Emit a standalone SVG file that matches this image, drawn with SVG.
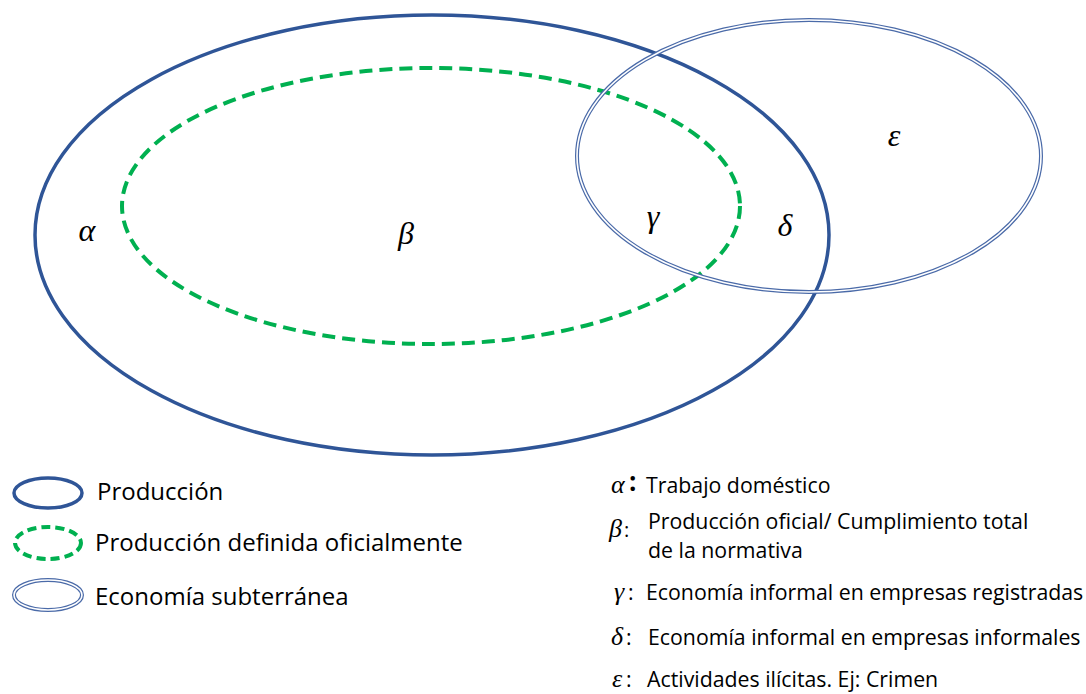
<svg xmlns="http://www.w3.org/2000/svg" width="1086" height="694" viewBox="0 0 1086 694">
<style>
.prod{fill:none;stroke:#2F5597;stroke-width:3.5}
.off{fill:none;stroke:#00B050;stroke-width:4;stroke-dasharray:13,7}
.subo{fill:none;stroke:#4A6AA8;stroke-width:4}
.subi{fill:none;stroke:#fff;stroke-width:1.6}
.gk{font-family:"Liberation Serif",serif;font-style:italic;fill:#000}
.lg{font-family:"Open Sans","Liberation Sans",sans-serif;fill:#000}
.l1{font-size:24px}
.l2{font-size:21.3px}
</style>
<rect width="1086" height="694" fill="#fff"/>
<g id="produccion">
<ellipse class="prod" cx="432" cy="235" rx="397" ry="220"/>
</g>
<g id="oficial">
<ellipse class="off" cx="431" cy="206" rx="309" ry="138"/>
</g>
<g id="subterranea">
<ellipse class="subo" cx="809" cy="156" rx="232" ry="136"/>
<ellipse class="subi" cx="809" cy="156" rx="232" ry="136"/>
</g>
<g id="labels" font-size="32">
<text class="gk" x="87" y="241" text-anchor="middle">α</text>
<text class="gk" x="406" y="244" text-anchor="middle">β</text>
<text class="gk" x="653" y="227" text-anchor="middle">γ</text>
<text class="gk" x="785" y="236" text-anchor="middle">δ</text>
<text class="gk" x="894" y="146" text-anchor="middle">ε</text>
</g>
<g id="legend-left">
<ellipse class="prod" cx="48" cy="493" rx="34" ry="15"/>
<ellipse class="off" cx="48" cy="543" rx="33" ry="16" style="stroke-dasharray:9,5"/>
<ellipse class="subo" cx="48" cy="595" rx="34" ry="15"/>
<ellipse class="subi" cx="48" cy="595" rx="34" ry="15"/>
<text class="lg l1" x="97" y="500">Producción</text>
<text class="lg l1" x="95" y="551">Producción definida oficialmente</text>
<text class="lg l1" x="95" y="605">Economía subterránea</text>
</g>
<g id="legend-right">
<text class="gk" x="611" y="493" font-size="26">α</text>
<text class="lg" x="629" y="491" font-size="26" font-weight="bold">:</text>
<text class="lg l2" x="646" y="493">Trabajo doméstico</text>
<text class="gk" x="609" y="537" font-size="26">β</text>
<text class="lg" x="624" y="537" font-size="20">:</text>
<text class="lg l2" x="648" y="529">Producción oficial/ Cumplimiento total</text>
<text class="lg l2" x="648" y="558">de la normativa</text>
<text class="gk" x="614" y="600" font-size="26">γ</text>
<text class="lg l2" x="628" y="600">:</text>
<text class="lg l2" x="646" y="600">Economía informal en empresas registradas</text>
<text class="gk" x="611" y="645" font-size="26">δ</text>
<text class="lg l2" x="626" y="645">:</text>
<text class="lg l2" x="648" y="645">Economía informal en empresas informales</text>
<text class="gk" x="612" y="687" font-size="26">ε</text>
<text class="lg l2" x="626" y="687">:</text>
<text class="lg l2" x="647" y="687">Actividades ilícitas. Ej: Crimen</text>
</g>
</svg>
